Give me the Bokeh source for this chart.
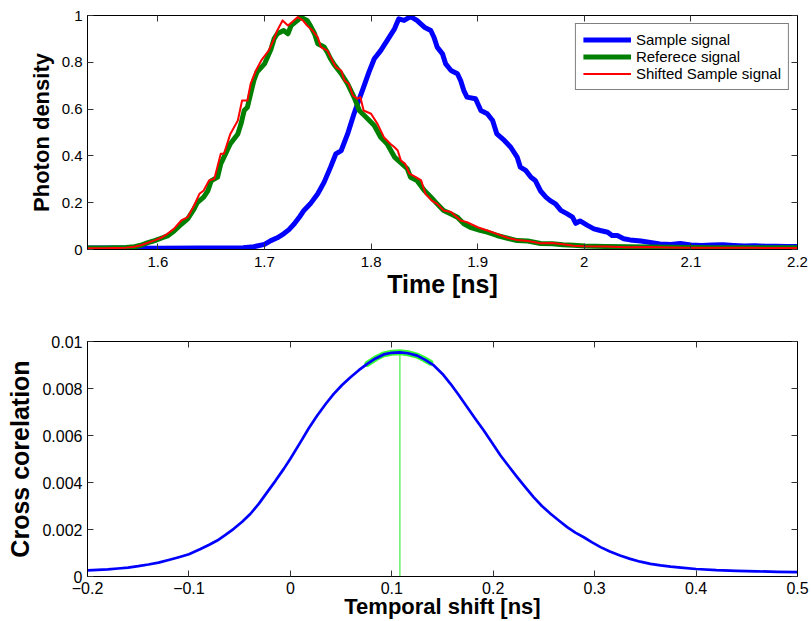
from bokeh.plotting import figure
from bokeh.models import Range1d, FixedTicker, LinearAxis, Legend, LegendItem, CustomJSTickFormatter
from bokeh.layouts import column
from bokeh.embed import file_html
from bokeh.resources import INLINE

# ---------------- data ----------------
sample_t = [1.534, 1.56, 1.60, 1.64, 1.67, 1.68, 1.69, 1.700, 1.706, 1.712, 1.718, 1.723, 1.728,
            1.733, 1.737, 1.743, 1.750, 1.756, 1.762, 1.767, 1.772, 1.778, 1.784, 1.789, 1.793,
            1.798, 1.803, 1.809, 1.815, 1.822, 1.826, 1.831, 1.837, 1.843, 1.850, 1.856, 1.859,
            1.862, 1.867, 1.870, 1.875, 1.881, 1.884, 1.887, 1.890, 1.898, 1.903, 1.909, 1.914,
            1.918, 1.925, 1.931, 1.937, 1.940, 1.945, 1.950, 1.954, 1.959, 1.964, 1.968, 1.973,
            1.978, 1.984, 1.989, 1.992, 1.996, 2.003, 2.009, 2.015, 2.022, 2.026, 2.031, 2.037,
            2.043, 2.053, 2.062, 2.071, 2.081, 2.090, 2.100, 2.110, 2.120, 2.130, 2.140, 2.150,
            2.160, 2.170, 2.180, 2.190, 2.200]
sample_y = [0.006, 0.006, 0.005, 0.006, 0.006, 0.008, 0.012, 0.022, 0.038, 0.050, 0.067, 0.085, 0.110,
            0.140, 0.167, 0.195, 0.238, 0.288, 0.352, 0.409, 0.423, 0.494, 0.580, 0.644, 0.694,
            0.758, 0.815, 0.850, 0.893, 0.943, 0.986, 0.979, 0.995, 0.979, 0.950, 0.936, 0.907,
            0.865, 0.836, 0.793, 0.765, 0.751, 0.722, 0.679, 0.651, 0.644, 0.594, 0.580, 0.551,
            0.494, 0.466, 0.437, 0.395, 0.352, 0.338, 0.309, 0.295, 0.250, 0.224, 0.209, 0.195,
            0.167, 0.152, 0.138, 0.112, 0.122, 0.103, 0.088, 0.081, 0.074, 0.060, 0.060, 0.046,
            0.041, 0.036, 0.030, 0.024, 0.021, 0.026, 0.019, 0.017, 0.019, 0.020, 0.017, 0.015,
            0.016, 0.014, 0.014, 0.013, 0.013]

reference_t = [1.534, 1.55, 1.56, 1.57, 1.578, 1.584, 1.590, 1.597, 1.603, 1.609, 1.615, 1.622, 1.628,
               1.634, 1.637, 1.643, 1.647, 1.650, 1.656, 1.659, 1.662, 1.668, 1.675, 1.678, 1.681,
               1.684, 1.687, 1.690, 1.693, 1.700, 1.706, 1.709, 1.712, 1.718, 1.722, 1.725, 1.731,
               1.734, 1.740, 1.743, 1.747, 1.750, 1.756, 1.759, 1.762, 1.765, 1.772, 1.778, 1.784,
               1.789, 1.792, 1.797, 1.803, 1.809, 1.815, 1.822, 1.828, 1.834, 1.837, 1.843, 1.850,
               1.856, 1.862, 1.868, 1.875, 1.881, 1.887, 1.893, 1.903, 1.909, 1.918, 1.928, 1.937,
               1.947, 1.959, 1.97, 1.98, 1.99, 2.00, 2.02, 2.04, 2.06, 2.08, 2.10, 2.12, 2.14, 2.16,
               2.18, 2.20]
reference_y = [0.006, 0.006, 0.007, 0.009, 0.012, 0.018, 0.028, 0.038, 0.048, 0.058, 0.078, 0.108, 0.131,
               0.174, 0.200, 0.224, 0.252, 0.293, 0.309, 0.366, 0.395, 0.452, 0.494, 0.537, 0.594,
               0.608, 0.665, 0.722, 0.758, 0.793, 0.855, 0.900, 0.922, 0.936, 0.922, 0.957, 0.979,
               0.993, 0.979, 0.957, 0.922, 0.879, 0.865, 0.843, 0.815, 0.793, 0.751, 0.708, 0.651,
               0.594, 0.580, 0.558, 0.530, 0.480, 0.452, 0.395, 0.370, 0.345, 0.309, 0.295, 0.252,
               0.224, 0.195, 0.167, 0.152, 0.138, 0.110, 0.095, 0.081, 0.074, 0.060, 0.048, 0.038,
               0.036, 0.026, 0.025, 0.020, 0.018, 0.015, 0.013, 0.012, 0.011, 0.010, 0.009, 0.008,
               0.008, 0.007, 0.007, 0.007]

shifted_t = [1.534, 1.55, 1.56, 1.57, 1.578, 1.584, 1.590, 1.597, 1.603, 1.609, 1.615, 1.622, 1.628,
             1.634, 1.639, 1.643, 1.648, 1.653, 1.659, 1.662, 1.668, 1.675, 1.679, 1.684, 1.687,
             1.692, 1.697, 1.704, 1.709, 1.712, 1.717, 1.722, 1.726, 1.731, 1.736, 1.740, 1.745,
             1.750, 1.753, 1.759, 1.762, 1.767, 1.772, 1.775, 1.779, 1.783, 1.787, 1.790, 1.793,
             1.800, 1.806, 1.812, 1.818, 1.822, 1.825, 1.828, 1.832, 1.836, 1.842, 1.847, 1.851,
             1.857, 1.862, 1.868, 1.875, 1.884, 1.890, 1.900, 1.909, 1.918, 1.928, 1.937, 1.947,
             1.959, 1.97, 1.98, 1.99, 2.00, 2.02, 2.04, 2.06, 2.08, 2.10, 2.12, 2.14, 2.16, 2.18, 2.20]
shifted_y = [0.005, 0.005, 0.006, 0.008, 0.012, 0.018, 0.028, 0.039, 0.050, 0.067, 0.088, 0.124, 0.138,
             0.188, 0.238, 0.252, 0.295, 0.302, 0.409, 0.409, 0.494, 0.551, 0.637, 0.637, 0.708,
             0.765, 0.808, 0.850, 0.900, 0.936, 0.979, 0.957, 0.972, 0.993, 0.979, 0.957, 0.936,
             0.907, 0.865, 0.850, 0.822, 0.779, 0.765, 0.722, 0.708, 0.658, 0.644, 0.651, 0.594,
             0.580, 0.537, 0.480, 0.452, 0.437, 0.423, 0.380, 0.366, 0.324, 0.309, 0.295, 0.238,
             0.209, 0.195, 0.167, 0.160, 0.124, 0.117, 0.095, 0.081, 0.067, 0.050, 0.041, 0.036,
             0.027, 0.028, 0.022, 0.016, 0.014, 0.013, 0.010, 0.011, 0.009, 0.008, 0.008, 0.007,
             0.007, 0.006, 0.006]

shift_ns = [-0.2, -0.19, -0.18, -0.17, -0.16, -0.15, -0.14, -0.13, -0.12, -0.11, -0.10, -0.0886,
            -0.08, -0.0721, -0.064, -0.0558, -0.0475, -0.0393, -0.031, -0.0228, -0.0147, -0.0065,
            0.0, 0.01, 0.018, 0.0265, 0.035, 0.0428, 0.051, 0.0593, 0.0675, 0.0758, 0.084, 0.0921,
            0.1, 0.108, 0.116, 0.125, 0.133, 0.1415, 0.15, 0.1579, 0.166, 0.1744, 0.1825, 0.1907,
            0.199, 0.2072, 0.2155, 0.2236, 0.232, 0.24, 0.248, 0.2565, 0.265, 0.2729, 0.281, 0.2893,
            0.2975, 0.3058, 0.315, 0.325, 0.335, 0.345, 0.355, 0.365, 0.375, 0.385, 0.40, 0.42,
            0.44, 0.46, 0.48, 0.50]
xcorr = [0.00026, 0.00028, 0.00030, 0.00034, 0.00038, 0.00044, 0.00051, 0.00059, 0.00070, 0.00082,
         0.00095, 0.00117, 0.00135, 0.00153, 0.00177, 0.00203, 0.00233, 0.00267, 0.00310, 0.00359,
         0.00407, 0.00458, 0.00501, 0.00572, 0.00630, 0.00685, 0.00735, 0.00777, 0.00815, 0.00848,
         0.00878, 0.00905, 0.00928, 0.00945, 0.00952, 0.00954, 0.00950, 0.00940, 0.00922, 0.00898,
         0.00862, 0.00820, 0.00772, 0.00720, 0.00670, 0.00621, 0.00568, 0.00515, 0.00468, 0.00423,
         0.00378, 0.00337, 0.00300, 0.00267, 0.00237, 0.00210, 0.00187, 0.00167, 0.00145, 0.00125,
         0.00106, 0.00089, 0.00075, 0.00063, 0.00054, 0.00047, 0.00042, 0.00038, 0.00032, 0.00027,
         0.00024, 0.00022, 0.00020, 0.00019]

fit_shift = [0.076, 0.084, 0.092, 0.100, 0.108, 0.116, 0.125, 0.132, 0.138]
fit_xcorr = [0.00905, 0.00928, 0.00945, 0.00952, 0.00954, 0.00950, 0.00940, 0.00925, 0.00910]

peak_shift = [0.108]
peak_xcorr = [0.00954]

time_ticks = [1.6, 1.7, 1.8, 1.9, 2.0, 2.1, 2.2]
time_labels = ["1.6", "1.7", "1.8", "1.9", "2", "2.1", "2.2"]
density_ticks = [0, 0.2, 0.4, 0.6, 0.8, 1.0]
density_labels = ["0", "0.2", "0.4", "0.6", "0.8", "1"]
shift_ticks = [-0.2, -0.1, 0.0, 0.1, 0.2, 0.3, 0.4, 0.5]
shift_labels = ["\u22120.2", "\u22120.1", "0", "0.1", "0.2", "0.3", "0.4", "0.5"]
xcorr_ticks = [0, 0.002, 0.004, 0.006, 0.008, 0.01]
xcorr_labels = ["0", "0.002", "0.004", "0.006", "0.008", "0.01"]

FONT = "Liberation Sans"
LOOKUP = """
let best = 0; let bd = Infinity;
for (let i = 0; i < tk.length; i++) { const d = Math.abs(tk[i] - tick); if (d < bd) { bd = d; best = i; } }
return lb[best];
"""


def fmt(ticks, labels):
    return CustomJSTickFormatter(args=dict(tk=ticks, lb=labels), code=LOOKUP)


def style_axis(ax, ticks, labels, tick_size, label_size):
    ax.ticker = FixedTicker(ticks=ticks)
    ax.formatter = fmt(ticks, labels)
    ax.major_tick_in = 6
    ax.major_tick_out = 0
    ax.minor_tick_line_color = None
    ax.axis_line_color = "black"
    ax.major_tick_line_color = "#333333"
    ax.major_label_text_font = FONT
    ax.major_label_text_font_size = tick_size
    ax.major_label_text_color = "black"
    ax.axis_label_text_font = FONT
    ax.axis_label_text_font_style = "bold"
    ax.axis_label_text_font_size = label_size
    ax.axis_label_text_color = "black"


def add_frame_axes(p, xticks, yticks):
    top = LinearAxis(ticker=FixedTicker(ticks=xticks),
                     formatter=CustomJSTickFormatter(code="return ''"))
    right = LinearAxis(ticker=FixedTicker(ticks=yticks),
                       formatter=CustomJSTickFormatter(code="return ''"))
    for ax in (top, right):
        ax.major_tick_in = 6
        ax.major_tick_out = 0
        ax.minor_tick_line_color = None
        ax.axis_line_color = "black"
        ax.major_tick_line_color = "#333333"
        ax.major_label_standoff = 0
        ax.major_label_text_font_size = "1px"
    p.add_layout(top, "above")
    p.add_layout(right, "right")


# ---------------- top figure ----------------
p1 = figure(width=811, height=310, output_backend="svg", toolbar_location=None,
            x_range=Range1d(1.534, 2.2), y_range=Range1d(0, 1),
            min_border_left=87, min_border_right=14, min_border_top=15, min_border_bottom=61)
p1.grid.visible = False
p1.outline_line_color = "black"
p1.outline_line_width = 1
p1.background_fill_color = "white"
p1.border_fill_color = "white"

r_s = p1.line(sample_t, sample_y, line_color="#0000ff", line_width=5, line_join="round")
r_r = p1.line(reference_t, reference_y, line_color="#008000", line_width=5, line_join="round")
r_h = p1.line(shifted_t, shifted_y, line_color="#ff0000", line_width=2, line_join="round")

style_axis(p1.xaxis[0], time_ticks, time_labels, "15px", "25px")
style_axis(p1.yaxis[0], density_ticks, density_labels, "15px", "22px")
p1.xaxis[0].axis_label = "Time [ns]"
p1.yaxis[0].axis_label = "Photon density"
p1.xaxis[0].major_label_standoff = 7
p1.xaxis[0].axis_label_standoff = 0
p1.yaxis[0].major_label_standoff = 5
p1.yaxis[0].axis_label_standoff = 5
add_frame_axes(p1, time_ticks, density_ticks)

legend = Legend(items=[LegendItem(label="Sample signal", renderers=[r_s]),
                       LegendItem(label="Referece signal", renderers=[r_r]),
                       LegendItem(label="Shifted Sample signal", renderers=[r_h])],
                location="top_right", margin=8, padding=7, spacing=0,
                glyph_width=48, glyph_height=17, label_height=17, label_standoff=5,
                label_text_font=FONT, label_text_font_size="15px", label_text_color="black",
                border_line_color="black", border_line_width=1,
                background_fill_color="white", background_fill_alpha=1)
p1.add_layout(legend, "center")

# ---------------- bottom figure ----------------
p2 = figure(width=811, height=311, output_backend="svg", toolbar_location=None,
            x_range=Range1d(-0.2, 0.5), y_range=Range1d(0, 0.01),
            min_border_left=87, min_border_right=14, min_border_top=31, min_border_bottom=45)
p2.grid.visible = False
p2.outline_line_color = "black"
p2.outline_line_width = 1
p2.background_fill_color = "white"
p2.border_fill_color = "white"

p2.line(fit_shift, fit_xcorr, line_color="#33ff33", line_width=6, line_cap="round")
p2.segment(x0=peak_shift, y0=[0], x1=peak_shift, y1=peak_xcorr, line_color="#44ee44", line_width=1.2)
p2.line(shift_ns, xcorr, line_color="#0000ff", line_width=2.7, line_join="round")

style_axis(p2.xaxis[0], shift_ticks, shift_labels, "16px", "22px")
style_axis(p2.yaxis[0], xcorr_ticks, xcorr_labels, "16px", "25px")
p2.xaxis[0].axis_label = "Temporal shift [ns]"
p2.yaxis[0].axis_label = "Cross corelation"
p2.xaxis[0].major_label_standoff = 5
p2.xaxis[0].axis_label_standoff = -3
p2.yaxis[0].major_label_standoff = 5
p2.yaxis[0].axis_label_standoff = 5
add_frame_axes(p2, shift_ticks, xcorr_ticks)

layout = column(p1, p2, spacing=0)
open("out.html", "w").write(file_html(layout, INLINE))
